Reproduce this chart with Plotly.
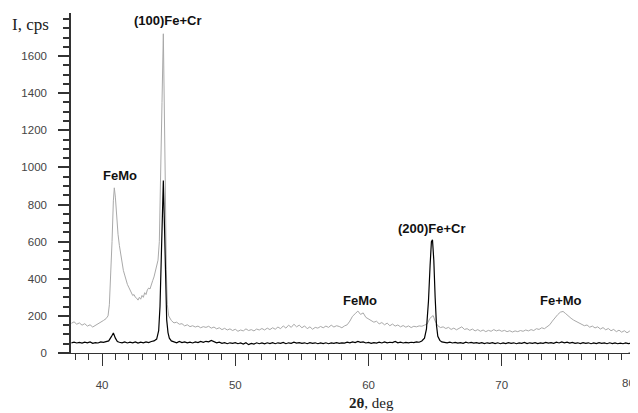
import plotly.graph_objects as go

# ---- data ----
grey_2theta = [37.7, 37.9, 38.1, 38.3, 38.5, 38.7, 38.9, 39.1, 39.3, 39.5, 39.7, 39.9, 40.1, 40.3,
               40.45, 40.55, 40.65, 40.75, 40.85, 40.92, 41.0, 41.1, 41.2, 41.3, 41.4, 41.5, 41.6,
               41.7, 41.8, 41.9, 42.0, 42.1, 42.2, 42.3, 42.4, 42.5, 42.6, 42.7, 42.8, 42.9, 43.0,
               43.1, 43.2, 43.3, 43.4, 43.5, 43.6, 43.7, 43.8, 43.9, 44.0, 44.1, 44.2, 44.3, 44.4,
               44.5, 44.6, 44.68, 44.75, 44.82, 44.9, 45.0, 45.1, 45.2, 45.4, 45.6, 45.8, 46.0,
               46.2, 46.4, 46.6, 46.8, 47.0, 47.2, 47.4, 47.6, 47.8, 48.0, 48.2, 48.4, 48.6, 48.8,
               49.0, 49.2, 49.4, 49.6, 49.8, 50.0, 50.2, 50.4, 50.6, 50.8, 51.0, 51.2, 51.4, 51.6,
               51.8, 52.0, 52.2, 52.4, 52.6, 52.8, 53.0, 53.2, 53.4, 53.6, 53.8, 54.0, 54.2, 54.4,
               54.6, 54.8, 55.0, 55.2, 55.4, 55.6, 55.8, 56.0, 56.2, 56.4, 56.6, 56.8, 57.0, 57.2,
               57.4, 57.6, 57.8, 58.0, 58.2, 58.4, 58.6, 58.8, 59.0, 59.2, 59.4, 59.6, 59.8, 60.0,
               60.2, 60.4, 60.6, 60.8, 61.0, 61.2, 61.4, 61.6, 61.8, 62.0, 62.2, 62.4, 62.6, 62.8,
               63.0, 63.2, 63.4, 63.6, 63.8, 64.0, 64.2, 64.4, 64.6, 64.85, 65.0, 65.2, 65.4, 65.6,
               65.8, 66.0, 66.2, 66.4, 66.6, 66.8, 67.0, 67.2, 67.4, 67.6, 67.8, 68.0, 68.2, 68.4,
               68.6, 68.8, 69.0, 69.2, 69.4, 69.6, 69.8, 70.0, 70.2, 70.4, 70.6, 70.8, 71.0, 71.2,
               71.4, 71.6, 71.8, 72.0, 72.2, 72.4, 72.6, 72.8, 73.0, 73.2, 73.4, 73.6, 73.8, 74.0,
               74.2, 74.4, 74.6, 74.8, 75.0, 75.2, 75.4, 75.6, 75.8, 76.0, 76.2, 76.4, 76.6, 76.8,
               77.0, 77.2, 77.4, 77.6, 77.8, 78.0, 78.2, 78.4, 78.6, 78.8, 79.0, 79.2, 79.4, 79.6,
               79.8, 80.0]
grey_counts = [160, 168, 155, 162, 150, 158, 145, 152, 140, 148, 160, 165, 175, 185,
               200, 260, 400, 600, 820, 890, 840, 720, 640, 580, 530, 480, 445,
               420, 390, 370, 355, 340, 325, 310, 315, 300, 295, 285, 300, 290, 310,
               300, 325, 315, 340, 350, 345, 375, 390, 410, 440, 460, 500, 600, 900,
               1350, 1720, 1400, 900, 450, 260, 200, 185, 175, 162, 166, 155, 158,
               146, 152, 142, 147, 140, 145, 136, 142, 138, 144, 134, 140, 130, 136,
               126, 133, 124, 130, 121, 128, 117, 124, 119, 130, 121, 126, 119, 129,
               124, 132, 124, 134, 126, 136, 128, 140, 131, 146, 134, 150, 138, 155,
               141, 150, 136, 146, 131, 141, 128, 138, 134, 143, 136, 145, 138, 150,
               140, 147, 143, 136, 146, 152, 172, 198, 212, 226, 208, 216, 192, 182,
               176, 166, 171, 157, 164, 152, 161, 147, 156, 145, 151, 141, 148, 139,
               146, 137, 144, 141, 146, 144, 150, 156, 186, 202, 172, 147, 137, 141,
               132, 138, 127, 134, 125, 131, 141, 127, 131, 122, 129, 119, 126, 117,
               124, 115, 122, 117, 126, 119, 124, 117, 122, 115, 120, 113, 119, 115,
               121, 117, 124, 119, 126, 121, 131, 127, 136, 131, 144, 152, 172, 192,
               207, 220, 224, 212, 198, 187, 177, 169, 162, 156, 147, 151, 139, 145,
               135, 141, 129, 137, 125, 132, 120, 127, 115, 123, 112, 120, 109, 118,
               107, 114]

black_2theta = [37.7, 37.9, 38.1, 38.3, 38.5, 38.7, 38.9, 39.1, 39.3, 39.5, 39.7, 39.9, 40.1, 40.3,
                40.5, 40.7, 40.85, 41.0, 41.15, 41.3, 41.5, 41.7, 41.9, 42.1, 42.3, 42.5, 42.7,
                42.9, 43.1, 43.3, 43.5, 43.7, 43.9, 44.1, 44.25, 44.35, 44.45, 44.53, 44.6, 44.68,
                44.76, 44.85, 44.95, 45.05, 45.2, 45.4, 45.6, 45.8, 46.0, 46.2, 46.4, 46.6, 46.8,
                47.0, 47.2, 47.4, 47.6, 47.8, 48.0, 48.2, 48.4, 48.6, 48.8, 49.0, 49.2, 49.4,
                49.6, 49.8, 50.0, 50.2, 50.4, 50.6, 50.8, 51.0, 51.2, 51.4, 51.6, 51.8, 52.0,
                52.2, 52.4, 52.6, 52.8, 53.0, 53.2, 53.4, 53.6, 53.8, 54.0, 54.2, 54.4, 54.6,
                54.8, 55.0, 55.2, 55.4, 55.6, 55.8, 56.0, 56.2, 56.4, 56.6, 56.8, 57.0, 57.2,
                57.4, 57.6, 57.8, 58.0, 58.2, 58.4, 58.6, 58.8, 59.0, 59.2, 59.4, 59.6, 59.8,
                60.0, 60.2, 60.4, 60.6, 60.8, 61.0, 61.2, 61.4, 61.6, 61.8, 62.0, 62.2, 62.4,
                62.6, 62.8, 63.0, 63.2, 63.4, 63.6, 63.8, 64.0, 64.2, 64.35, 64.5, 64.62, 64.72,
                64.8, 64.9, 65.0, 65.1, 65.2, 65.35, 65.5, 65.7, 65.9, 66.1, 66.3, 66.5, 66.7,
                66.9, 67.1, 67.3, 67.5, 67.7, 67.9, 68.1, 68.3, 68.5, 68.7, 68.9, 69.1, 69.3,
                69.5, 69.7, 69.9, 70.1, 70.3, 70.5, 70.7, 70.9, 71.1, 71.3, 71.5, 71.7, 71.9,
                72.1, 72.3, 72.5, 72.7, 72.9, 73.1, 73.3, 73.5, 73.7, 73.9, 74.1, 74.3, 74.5,
                74.7, 74.9, 75.1, 75.3, 75.5, 75.7, 75.9, 76.1, 76.3, 76.5, 76.7, 76.9, 77.1,
                77.3, 77.5, 77.7, 77.9, 78.1, 78.3, 78.5, 78.7, 78.9, 79.1, 79.3, 79.5, 79.7,
                79.9]
black_counts = [55, 58, 54, 57, 53, 58, 55, 60, 52, 56, 54, 60, 57, 62,
                65, 88, 108, 80, 62, 58, 55, 60, 54, 58, 55, 60, 53,
                58, 55, 60, 56, 62, 65, 75, 120, 250, 550, 880, 930, 700,
                380, 180, 110, 80, 65, 58, 55, 62, 56, 60, 55, 58, 54,
                60, 56, 62, 57, 63, 60, 68, 60, 55, 58, 52, 56, 50,
                55, 52, 56, 50, 54, 48, 55, 45, 52, 48, 55, 50, 54,
                49, 55, 51, 56, 50, 55, 52, 57, 50, 55, 52, 58, 53,
                56, 52, 55, 50, 56, 52, 55, 50, 54, 51, 55, 50, 54,
                52, 56, 52, 55, 53, 58, 55, 60, 56, 62, 57, 60, 54,
                57, 52, 56, 53, 58, 54, 60, 55, 58, 56, 62, 55, 58,
                54, 57, 55, 58, 56, 60, 58, 65, 80, 130, 280, 470, 600,
                610, 500, 300, 150, 90, 68, 60, 58, 55, 58, 54, 57, 53,
                56, 52, 58, 54, 57, 53, 56, 52, 56, 51, 55, 52, 56,
                51, 55, 50, 54, 51, 56, 52, 55, 50, 54, 52, 57, 51,
                55, 52, 56, 51, 54, 52, 57, 53, 56, 52, 58, 54, 60,
                55, 58, 53, 57, 52, 55, 51, 56, 52, 55, 50, 54, 51,
                56, 52, 54, 50, 55, 51, 54, 50, 53, 50, 54, 51, 53,
                50]

peak_labels = ["(100)Fe+Cr", "FeMo", "FeMo", "(200)Fe+Cr", "Fe+Mo"]
peak_label_x = [44.95, 41.35, 59.36, 64.77, 74.45]
peak_label_y = [1794, 958, 283, 673, 283]

x_ticks = [40, 50, 60, 70, 80]
x_tick_text = ["40", "50", "60", "70", ""]   # "80" is placed separately so it stays inside the page
y_ticks = [0, 200, 400, 600, 800, 1000, 1200, 1400, 1600]

fig = go.Figure()
fig.add_trace(go.Scatter(x=grey_2theta, y=grey_counts, mode="lines",
                         line=dict(color="#a9a9a9", width=1), showlegend=False))
fig.add_trace(go.Scatter(x=black_2theta, y=black_counts, mode="lines",
                         line=dict(color="#000000", width=1.2), showlegend=False))

for t, xx, yy in zip(peak_labels, peak_label_x, peak_label_y):
    fig.add_annotation(x=xx, y=yy, text="<b>%s</b>" % t, showarrow=False,
                       font=dict(family="Liberation Sans, Arial", size=13, color="#111111"))

tickfont = dict(family="Liberation Sans, Arial", size=11.5, color="#444444")

# last x tick label, kept just inside the right edge
fig.add_annotation(x=x_ticks[-1], xref="x", yref="paper", y=-0.089, text="80",
                   showarrow=False, xanchor="right", yanchor="middle", xshift=2,
                   font=tickfont)

fig.add_annotation(xref="paper", yref="paper", x=-0.071, y=0.965, text="I, cps",
                   showarrow=False, xanchor="center", yanchor="middle",
                   font=dict(family="Liberation Serif, Times New Roman", size=17, color="#222222"))
fig.add_annotation(xref="paper", yref="paper", x=0.532, y=-0.148, text="<b>2θ</b>, deg",
                   showarrow=False, xanchor="center", yanchor="middle",
                   font=dict(family="Liberation Serif, Times New Roman", size=15, color="#222222"))

# x-axis line extension to the left of the y-axis
fig.add_shape(type="line", xref="paper", yref="paper", x0=-0.021, x1=0, y0=0, y1=0,
              line=dict(color="#333333", width=1.2))
# arrow at the end of x axis
fig.add_annotation(x=80, y=0, ax=-8, ay=0, text="", showarrow=True, arrowhead=2,
                   arrowsize=1, arrowwidth=1, arrowcolor="#333333")

fig.update_xaxes(range=[37.67, 80.0], tickvals=x_ticks, ticktext=x_tick_text,
                 ticks="outside", ticklen=12,
                 tickcolor="#333333", tickwidth=1.2, showline=True, linecolor="#333333",
                 linewidth=1.2, showgrid=False, zeroline=False, tickfont=tickfont,
                 ticklabelstandoff=9, automargin=False,
                 minor=dict(dtick=1, tick0=0, ticks="outside", ticklen=6,
                            tickcolor="#333333", tickwidth=1.2, showgrid=False))
fig.update_yaxes(range=[0, 1832], tickvals=y_ticks, ticks="outside", ticklen=11,
                 tickcolor="#333333", tickwidth=1.5, showline=True, linecolor="#333333",
                 linewidth=1.5, showgrid=False, zeroline=False, tickfont=tickfont,
                 ticklabelstandoff=9, automargin=False,
                 minor=dict(dtick=50, tick0=0, ticks="outside", ticklen=6,
                            tickcolor="#333333", tickwidth=1.5, showgrid=False))

# the page body adds an 8 px offset; margins compensate so the plot area lands
# where the reference has it
fig.update_layout(width=638, height=413, margin=dict(l=63, r=11, t=5, b=68),
                  paper_bgcolor="white", plot_bgcolor="white")

fig.write_html("out.html")
